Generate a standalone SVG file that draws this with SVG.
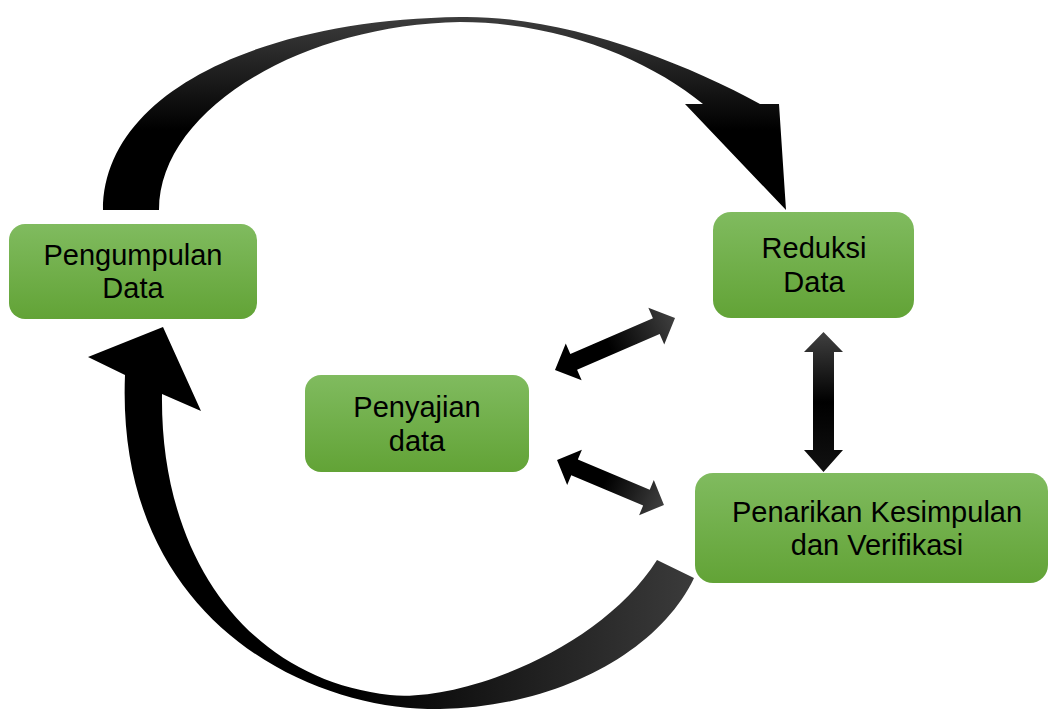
<svg xmlns="http://www.w3.org/2000/svg" width="1048" height="709" viewBox="0 0 1048 709">
<defs>
<linearGradient id="boxFill" x1="0" y1="0" x2="0" y2="1">
<stop offset="0" stop-color="#80BB5F"/>
<stop offset="1" stop-color="#62A336"/>
</linearGradient>
<linearGradient id="topArc" gradientUnits="userSpaceOnUse" x1="0" y1="17" x2="0" y2="130">
<stop offset="0" stop-color="#3c3c3c"/>
<stop offset="1" stop-color="#000"/>
</linearGradient>
<linearGradient id="botArc" gradientUnits="userSpaceOnUse" x1="200" y1="0" x2="690" y2="0">
<stop offset="0" stop-color="#000"/>
<stop offset="0.3" stop-color="#000"/>
<stop offset="1" stop-color="#3a3a3a"/>
</linearGradient>
<linearGradient id="dbl" x1="0" y1="0" x2="1" y2="0">
<stop offset="0" stop-color="#000"/>
<stop offset="0.45" stop-color="#000"/>
<stop offset="1" stop-color="#404040"/>
</linearGradient>
<linearGradient id="vert" x1="0" y1="0" x2="0" y2="1">
<stop offset="0" stop-color="#404040"/>
<stop offset="0.5" stop-color="#000"/>
<stop offset="1" stop-color="#111"/>
</linearGradient>
</defs>
<style>
.box{fill:url(#boxFill);}
.lbl{font-family:"Liberation Sans",Arial,sans-serif;font-size:29px;fill:#000;text-anchor:middle;}
</style>
<rect width="1048" height="709" fill="#fff"/>
<g id="connectors">
<path d="M103,210 C103,95 255,20 460,17 C560,15 680,60 760,104 L779,104 L786,210 L685,104 L703,104 C650,60 560,22 460,22 C300,25 159,110 159,210 Z" fill="url(#topArc)"/>
<path d="M694,578 C660,650 560,707 440,709 C310,712 115,620 125,375 L88,357 L163,327 L201,411 L162,394 C160,560 250,680 390,695 C460,702.5 600,650 657,560 Z" fill="url(#botArc)"/>
<path transform="translate(615,344) rotate(-23.4)" d="M-65.4,0 L-45,-20 L-45,-8.5 L45,-8.5 L45,-20 L65.4,0 L45,20 L45,8.5 L-45,8.5 L-45,20 Z" fill="url(#dbl)"/>
<path transform="translate(610.5,482.5) rotate(22.8)" d="M-58,0 L-39,-19 L-39,-8.5 L39,-8.5 L39,-19 L58,0 L39,19 L39,8.5 L-39,8.5 L-39,19 Z" fill="url(#dbl)"/>
<path d="M823.5,332 L843,352 L834,352 L834,450 L843,450 L823.5,472 L804,450 L813,450 L813,352 L804,352 Z" fill="url(#vert)"/>
</g>
<g id="node-pengumpulan">
<rect class="box" x="9" y="224" width="248" height="95" rx="16"/>
<text class="lbl" x="133" y="265">Pengumpulan</text>
<text class="lbl" x="133" y="298">Data</text>
</g>
<g id="node-reduksi">
<rect class="box" x="713" y="212" width="201" height="106" rx="18"/>
<text class="lbl" x="814" y="258">Reduksi</text>
<text class="lbl" x="814" y="292">Data</text>
</g>
<g id="node-penyajian">
<rect class="box" x="305" y="375" width="224" height="97" rx="16"/>
<text class="lbl" x="417" y="417">Penyajian</text>
<text class="lbl" x="417" y="451">data</text>
</g>
<g id="node-penarikan">
<rect class="box" x="695" y="473" width="353" height="110" rx="18"/>
<text class="lbl" x="877" y="522">Penarikan Kesimpulan</text>
<text class="lbl" x="877" y="555">dan Verifikasi</text>
</g>
</svg>
